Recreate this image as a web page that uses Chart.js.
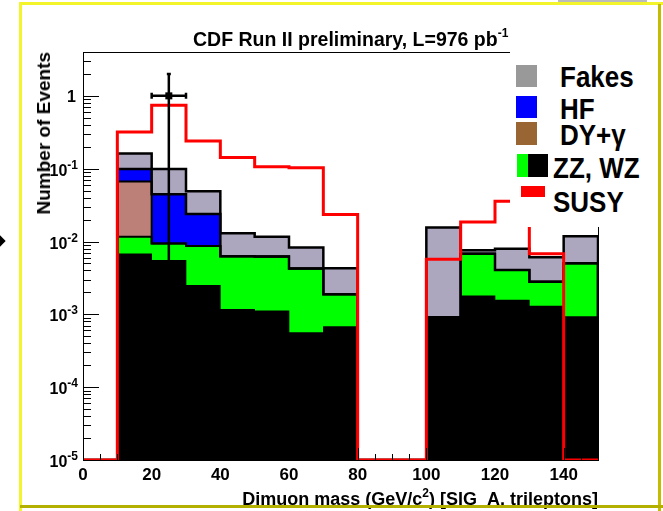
<!DOCTYPE html>
<html>
<head>
<meta charset="utf-8">
<script src="https://cdn.jsdelivr.net/npm/chart.js@4/dist/chart.umd.min.js"></script>
<style>
  body { margin: 0; background: #fff; }
  #wrap { position: relative; width: 663px; height: 511px; overflow: hidden; font-family: "Liberation Sans", Arial, sans-serif; }
  #wrap canvas { position: absolute; left: 0; top: 0; }
  .t { position: absolute; white-space: nowrap; font-weight: bold; color: #000; line-height: 1; }
  .box { position: absolute; }
  .leg { font-size: 26px; transform: scaleY(1.17); transform-origin: left top; }
</style>
</head>
<body>
<div id="wrap">
  <canvas id="c" width="663" height="511"></canvas>

  <div class="t" style="left:193px;top:30px;font-size:19.5px;">CDF Run II preliminary, L=976 pb<span style="font-size:12px;position:relative;top:-9px;">-1</span></div>
  <div class="t" style="left:34px;top:52px;font-size:19px;writing-mode:vertical-rl;transform:rotate(180deg);">Number of Events</div>
  <div class="t" style="right:65px;top:490px;font-size:18px;">Dimuon mass (GeV/c<span style="font-size:12px;position:relative;top:-8px;">2</span>) [SIG_A, trileptons]</div>

  <!-- legend -->
  <div class="box" style="left:510px;top:48px;width:150px;height:179px;background:#fff;"></div>
  <div class="box" style="left:516px;top:65px;width:21px;height:22px;background:#999999;"></div>
  <div class="box" style="left:516px;top:96px;width:21px;height:22px;background:#0000ff;"></div>
  <div class="box" style="left:516px;top:122px;width:21px;height:23px;background:#996633;"></div>
  <div class="box" style="left:517px;top:154px;width:11px;height:23px;background:#00ff00;"></div>
  <div class="box" style="left:528px;top:154px;width:20px;height:23px;background:#000;"></div>
  <div class="box" style="left:521px;top:186px;width:24px;height:11px;background:#ff0000;"></div>
  <div class="t leg" style="left:560px;top:61px;">Fakes</div>
  <div class="t leg" style="left:560px;top:93px;">HF</div>
  <div class="t leg" style="left:560px;top:119px;">DY+γ</div>
  <div class="t leg" style="left:553px;top:152px;">ZZ, WZ</div>
  <div class="t leg" style="left:553px;top:186px;">SUSY</div>

  <!-- slide frame bits -->
  <div class="box" style="left:558px;top:0px;width:89px;height:2px;background:#bbbbbb;"></div>
  <div class="box" style="left:20px;top:2px;width:643px;height:3px;background:#f4f42a;"></div>
  <div class="box" style="left:19px;top:2px;width:3px;height:509px;background:#f4f42a;"></div>
  <div class="box" style="left:658px;top:4px;width:3px;height:507px;background:#c4bc00;"></div>
  <div class="box" style="left:20px;top:505px;width:643px;height:3px;background:#b4b000;"></div>
  <div class="box" style="left:-4px;top:237px;width:8px;height:8px;background:#000;transform:rotate(45deg);"></div>
</div>

<script>
// bins of dimuon mass (GeV/c^2)
const binEdges = [0, 10, 20, 30, 40, 50, 60, 70, 80, 90, 100, 110, 120, 130, 140, 150];

// expected events per bin, per process (stacked bottom -> top)
const zzEvents    = [0, 0.0068, 0.0055, 0.0025, 0.00117, 0.00112, 0.00056, 0.00068, 0, 0, 0.00091, 0.0018, 0.00157, 0.0013, 0.00093];
const wzEvents    = [0, 0.0048, 0.0039, 0.0062, 0.0051, 0.0051, 0.0037, 0.0012, 0, 0, 0, 0.0050, 0.0025, 0.0015, 0.0041];
const dyEvents    = [0, 0.055, 0, 0, 0, 0, 0, 0, 0, 0, 0, 0, 0, 0, 0];
const hfEvents    = [0, 0.0325, 0.0351, 0.0151, 0, 0, 0, 0, 0, 0, 0, 0, 0, 0, 0];
const fakesEvents = [0, 0.062, 0.0545, 0.0252, 0.0067, 0.0054, 0.0040, 0.0024, 0, 0, 0.0147, 0.0008, 0.0039, 0.0033, 0.0068];

// SUSY signal
const susyEvents  = [0, 0.32, 0.74, 0.24, 0.142, 0.106, 0.103, 0.0234, 0, 0, 0.0057, 0.0186, 0.0357, 0.0068, 0];

// observed data
const dataMass = [25];
const dataEvents = [1];
const dataErrLow = [1];
const dataErrHigh = [1];
const dataHalfWidth = [5];

const yTickExps = [-5, -4, -3, -2, -1, 0];
const xTickLabels = [0, 20, 40, 60, 80, 100, 120, 140];

const Y_MIN = 1e-5, Y_MAX = 4;
const FONT = '"Liberation Sans", Arial, sans-serif';

// cumulative stack levels
const cum = [];
let run = zzEvents.map(() => 0);
[zzEvents, wzEvents, dyEvents, hfEvents, fakesEvents].forEach(vals => {
    run = run.map((r, i) => r + vals[i]);
    cum.push(run);
});
const [zzTop, wzTop, dyTop, hfTop, fakesTop] = cum;

const centers = binEdges.slice(0, -1).map((e, i) => (e + binEdges[i + 1]) / 2);
const barData = vals => centers.map((x, i) => ({ x, y: vals[i] > 0 ? [Y_MIN, vals[i]] : null }));
const stepData = vals => binEdges.map((x, i) => ({ x, y: i < vals.length && vals[i] > 0 ? vals[i] : Y_MIN }));

function barSet(label, vals, color, order) {
    return {
        type: 'bar', label, data: barData(vals), backgroundColor: color,
        borderWidth: 0, grouped: false, barPercentage: 1, categoryPercentage: 1, order
    };
}
function stepSet(label, vals, color, width, order) {
    return {
        type: 'line', label, data: stepData(vals), borderColor: color, borderWidth: width,
        stepped: true, pointRadius: 0, fill: false, order
    };
}

const dataPoint = {
    id: 'dataPoint',
    afterDatasetsDraw(chart) {
        const { ctx, scales: { x, y } } = chart;
        ctx.save();
        ctx.strokeStyle = '#000';
        ctx.fillStyle = '#000';
        ctx.lineWidth = 2.5;
        dataMass.forEach((m, i) => {
            const px = x.getPixelForValue(m);
            const py = y.getPixelForValue(dataEvents[i]);
            const lo = dataEvents[i] - dataErrLow[i];
            const pyLo = y.getPixelForValue(lo > Y_MIN ? lo : Y_MIN);
            const pyHi = y.getPixelForValue(dataEvents[i] + dataErrHigh[i]);
            const pxL = x.getPixelForValue(m - dataHalfWidth[i]);
            const pxR = x.getPixelForValue(m + dataHalfWidth[i]);
            ctx.beginPath();
            ctx.moveTo(px, pyHi); ctx.lineTo(px, pyLo);
            ctx.moveTo(pxL, py); ctx.lineTo(pxR, py);
            ctx.moveTo(px - 2, pyHi); ctx.lineTo(px + 2, pyHi);
            ctx.moveTo(pxL, py - 3); ctx.lineTo(pxL, py + 3);
            ctx.moveTo(pxR, py - 3); ctx.lineTo(pxR, py + 3);
            ctx.stroke();
            ctx.fillRect(px - 3.5, py - 3.5, 7, 7);
        });
        ctx.restore();
    }
};

const rootAxes = {
    id: 'rootAxes',
    afterDatasetsDraw(chart) {
        const { ctx, chartArea: a, scales: { x, y } } = chart;
        ctx.save();
        ctx.strokeStyle = '#000';
        ctx.lineWidth = 1;
        ctx.beginPath();
        // y ticks inside the frame
        for (let e = -5; e <= 0; e++) {
            for (let m = 1; m <= 9; m++) {
                const v = m * Math.pow(10, e);
                if (v < Y_MIN || v > Y_MAX) continue;
                const py = Math.round(y.getPixelForValue(v)) + 0.5;
                ctx.moveTo(a.left, py); ctx.lineTo(a.left + (m === 1 ? 16 : 8), py);
            }
        }
        // x ticks
        for (let v = 0; v <= 150; v += 5) {
            const px = Math.round(x.getPixelForValue(v)) + 0.5;
            ctx.moveTo(px, a.bottom); ctx.lineTo(px, a.bottom - (v % 20 === 0 ? 12 : 6));
        }
        ctx.stroke();
        ctx.strokeRect(Math.round(a.left) + 0.5, Math.round(a.top) + 0.5, Math.round(a.width), Math.round(a.height));

        // labels
        ctx.fillStyle = '#000';
        ctx.textBaseline = 'alphabetic';
        yTickExps.forEach(e => {
            const py = y.getPixelForValue(Math.pow(10, e));
            const right = a.left - 5;
            if (e === 0) {
                ctx.font = 'bold 16px ' + FONT;
                ctx.textAlign = 'right';
                ctx.fillText('1', right - 2, py + 6);
                return;
            }
            ctx.font = 'bold 12px ' + FONT;
            ctx.textAlign = 'right';
            const sup = String(e);
            const w = ctx.measureText(sup).width;
            ctx.fillText(sup, right, py);
            ctx.font = 'bold 16px ' + FONT;
            ctx.fillText('10', right - w, py + 7);
        });
        ctx.font = 'bold 17px ' + FONT;
        ctx.textAlign = 'center';
        xTickLabels.forEach(v => {
            ctx.fillText(String(v), x.getPixelForValue(v), a.bottom + 20);
        });
        ctx.restore();
    }
};

new Chart(document.getElementById('c'), {
    type: 'bar',
    data: {
        datasets: [
            stepSet('SUSY', susyEvents, '#ff0000', 3, 0),
            stepSet('Fakes outline', fakesTop, '#000', 2.5, 1),
            stepSet('HF outline', hfTop, '#000', 2.5, 1),
            stepSet('DY outline', dyTop, '#000', 2, 1),
            stepSet('WZ outline', wzTop, '#000', 2, 1),
            barSet('ZZ', zzTop, '#000000', 2),
            barSet('WZ', wzTop, '#00ff00', 3),
            barSet('DY+γ', dyTop, '#bd8078', 4),
            barSet('HF', hfTop, '#0000ff', 5),
            barSet('Fakes', fakesTop, '#aca7bf', 6)
        ]
    },
    options: {
        responsive: false,
        devicePixelRatio: 1,
        animation: false,
        layout: { padding: { left: 83, right: 65, top: 52, bottom: 51 } },
        scales: {
            x: { type: 'linear', min: 0, max: 150, offset: false, display: false },
            y: { type: 'logarithmic', min: Y_MIN, max: Y_MAX, display: false }
        },
        plugins: { legend: { display: false }, tooltip: { enabled: false } }
    },
    plugins: [dataPoint, rootAxes]
});
</script>
</body>
</html>
